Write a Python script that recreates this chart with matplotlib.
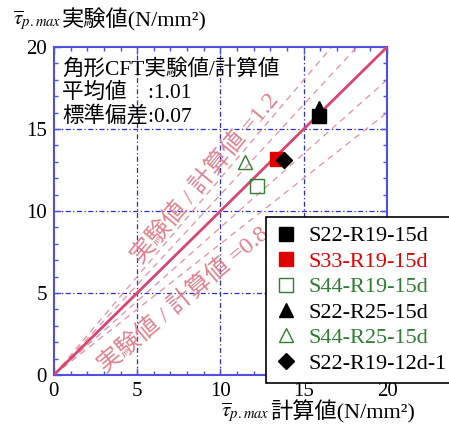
import matplotlib
matplotlib.use("Agg")
import matplotlib.pyplot as plt
import numpy as np

plt.rcParams['font.family'] = ['Liberation Serif', 'Noto Sans CJK JP']
plt.rcParams['mathtext.fontset'] = 'stix'

########################### Data ####################################

series_names = ['S22-R19-15d', 'S33-R19-15d', 'S44-R19-15d',
                'S22-R25-15d', 'S44-R25-15d', 'S22-R19-12d-1']
calc_values = [15.9, 13.4, 12.2, 15.9, 11.5, 13.8]
exp_values = [15.8, 13.2, 11.5, 16.3, 13.0, 13.1]
markers = ['s', 's', 's', '^', '^', 'D']
face_colors = ['black', '#e00000', 'none', 'black', 'none', 'black']
edge_colors = ['black', '#e00000', '#2e7d32', 'black', '#2e7d32', 'black']
text_colors = ['black', '#e00000', '#2e7d32', 'black', '#2e7d32', 'black']
marker_sizes = [10, 10, 10, 10, 10, 8]

ratio_lines = [0.8, 0.9, 1.1, 1.2]
ticks = [0, 5, 10, 15, 20]

box_lines = ['角形CFT実験値/計算値', '平均値\u3000:1.01', '標準偏差:0.07']

########################### Plot ####################################

fig = plt.figure(figsize=(4.49, 4.28), dpi=100)
ax = fig.add_axes([0.120, 0.124, 0.742, 0.766])

blue = '#5050e0'
pink = '#d9456e'
light_pink = '#e88ea2'

# grid
for t in ticks[1:-1]:
    ax.axvline(t, color='#2a2ad0', lw=0.9, ls=(0, (4, 2, 1, 2)), zorder=1)
    ax.axhline(t, color='#2a2ad0', lw=0.9, ls=(0, (4, 2, 1, 2)), zorder=1)

# ratio lines
for r in ratio_lines:
    xe = min(20, 20 / r)
    ax.plot([0, xe], [0, r * xe], color=light_pink, lw=0.9, ls=(0, (5, 4)), zorder=2)
ax.plot([0, 20], [0, 20], color=pink, lw=2.0, zorder=3)

ax.text(9.1, 12.0, '実験値 / 計算値 =1.2', rotation=50, color='#e0808e',
        fontsize=17.5, ha='center', va='center', rotation_mode='anchor', zorder=2)
ax.text(7.8, 4.6, '実験値 / 計算値 =0.8', rotation=40, color='#e0808e',
        fontsize=17.5, ha='center', va='center', rotation_mode='anchor', zorder=2)

handles = []
for i in range(len(series_names)):
    h, = ax.plot([calc_values[i]], [exp_values[i]], linestyle='none',
                 marker=markers[i], markersize=marker_sizes[i],
                 markerfacecolor=face_colors[i], markeredgecolor=edge_colors[i],
                 markeredgewidth=1.0, label=series_names[i], zorder=5)
    handles.append(h)

for k, line in enumerate(box_lines):
    ax.text(0.5, 19.25 - k * 1.43, line, fontsize=15.5, ha='left', va='top', zorder=4)

ax.set_xlim(0, 20)
ax.set_ylim(0, 20)
ax.set_xticks(ticks)
ax.set_yticks(ticks)
ax.set_xticks(np.arange(0, 21, 1), minor=True)
ax.set_yticks(np.arange(0, 21, 1), minor=True)
ax.tick_params(which='both', direction='in', top=True, right=True, color=blue)
ax.tick_params(which='major', length=5, width=1.0, labelsize=15, pad=5)
ax.tick_params(which='minor', length=3, width=1.0)
for s in ax.spines.values():
    s.set_color(blue)
    s.set_linewidth(1.5)

leg = fig.legend(handles=handles, loc='upper left', bbox_to_anchor=(0.592, 0.493),
                 fontsize=16, frameon=True, fancybox=False, edgecolor='black',
                 framealpha=1, handlelength=1.0, handletextpad=0.5,
                 labelspacing=0.22, borderpad=0.4, borderaxespad=0)
leg.get_frame().set_linewidth(1.2)
for txt, c in zip(leg.get_texts(), text_colors):
    txt.set_color(c)

# axis titles
fig.text(13 / 449, 1 - 25 / 428, r'$\overline{\tau}_{p.max}$', fontsize=15, ha='left', va='baseline')
fig.text(62 / 449, 1 - 26 / 428, '実験値(N/mm²)', fontsize=16, ha='left', va='baseline')
fig.text(221 / 449, 1 - 417 / 428, r'$\overline{\tau}_{p.max}$', fontsize=15, ha='left', va='baseline')
fig.text(270 / 449, 1 - 418 / 428, '計算値(N/mm²)', fontsize=16, ha='left', va='baseline')

fig.savefig('out.png', dpi=100)
